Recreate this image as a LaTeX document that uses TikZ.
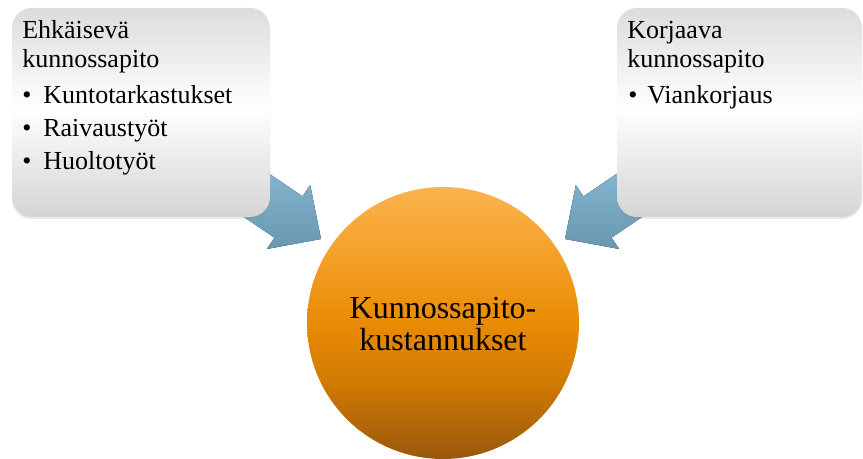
\documentclass[tikz,border=0pt]{standalone}
\usepackage{fontspec}
\setmainfont{Liberation Serif}
\usetikzlibrary{shadows}
\definecolor{boxtop}{HTML}{DCDCDC}
\definecolor{boxbot}{HTML}{D4D4D4}
\definecolor{arrowtop}{HTML}{92C1DC}
\definecolor{arrowbot}{HTML}{6897B2}
\definecolor{orangetop}{HTML}{FAB34E}
\definecolor{orangeup}{HTML}{F4A026}
\definecolor{orangemid}{HTML}{E98B04}
\definecolor{orangelow}{HTML}{D37C02}
\definecolor{orangebot}{HTML}{9A580C}
% vertical orange gradient of the cost circle (25bp..75bp spans the shape)
\pgfdeclareverticalshading{orangeball}{100bp}{
  color(0bp)=(orangebot); color(25bp)=(orangebot); color(40bp)=(orangelow);
  color(50bp)=(orangemid); color(62bp)=(orangeup); color(75bp)=(orangetop);
  color(100bp)=(orangetop)}
\pgfdeclareverticalshading{grayband}{100bp}{
  color(0bp)=(boxbot); color(25bp)=(boxbot); color(51bp)=(white);
  color(75bp)=(boxtop); color(100bp)=(boxtop)}
\tikzset{
  infobox/.style={rounded corners=15pt, shading=grayband, draw=none,
    drop shadow={shadow xshift=0pt, shadow yshift=-1.5pt, opacity=0.18}},
  blockarrow/.style={top color=arrowtop, bottom color=arrowbot, draw=none},
  boxtext/.style={anchor=base west, inner sep=0pt, font=\fontsize{19.5}{21.75}\selectfont},
  costcircle/.style={circle, shading=orangeball, draw=none},
}
\begin{document}
\begin{tikzpicture}[x=0.75pt, y=-0.75pt]
\useasboundingbox (0,0) rectangle (863,459);

% block arrows pointing towards the cost circle
\coordinate (ltip) at (321,239);
\coordinate (rtip) at (565,239);
\fill[blockarrow] (211.3,134.6) -- (302.5,196.3) -- (310.2,185) -- (ltip)
  -- (266.8,249) -- (274.5,237.7) -- (183.3,176) -- cycle;
\fill[blockarrow] (674.7,134.6) -- (583.5,196.3) -- (575.8,185) -- (rtip)
  -- (619.2,249) -- (611.5,237.7) -- (702.7,176) -- cycle;

% category boxes
\path[infobox] (12,8) rectangle (270,217);
\path[infobox] (617,8) rectangle (862,217);

\node[boxtext] (ehk1) at (22,39) {Ehkäisevä};
\node[boxtext] (ehk2) at (22,68) {kunnossapito};
\node[boxtext] (b1) at (22,104) {•};
\node[boxtext] (ehk3) at (43,104) {Kuntotarkastukset};
\node[boxtext] (b2) at (22,137) {•};
\node[boxtext] (ehk4) at (43,137) {Raivaustyöt};
\node[boxtext] (b3) at (22,170) {•};
\node[boxtext] (ehk5) at (43,170) {Huoltotyöt};

\node[boxtext] (korj1) at (627,39) {Korjaava};
\node[boxtext] (korj2) at (627,68) {kunnossapito};
\node[boxtext] (b4) at (628,104) {•};
\node[boxtext] (korj3) at (647,104) {Viankorjaus};

% central cost circle
\path[costcircle] (443,323) circle (102pt);
\node[align=center, inner sep=0pt, font=\fontsize{24}{24}\selectfont] (kust) at (443,324)
  {Kunnossapito-\\kustannukset};
\end{tikzpicture}
\end{document}
